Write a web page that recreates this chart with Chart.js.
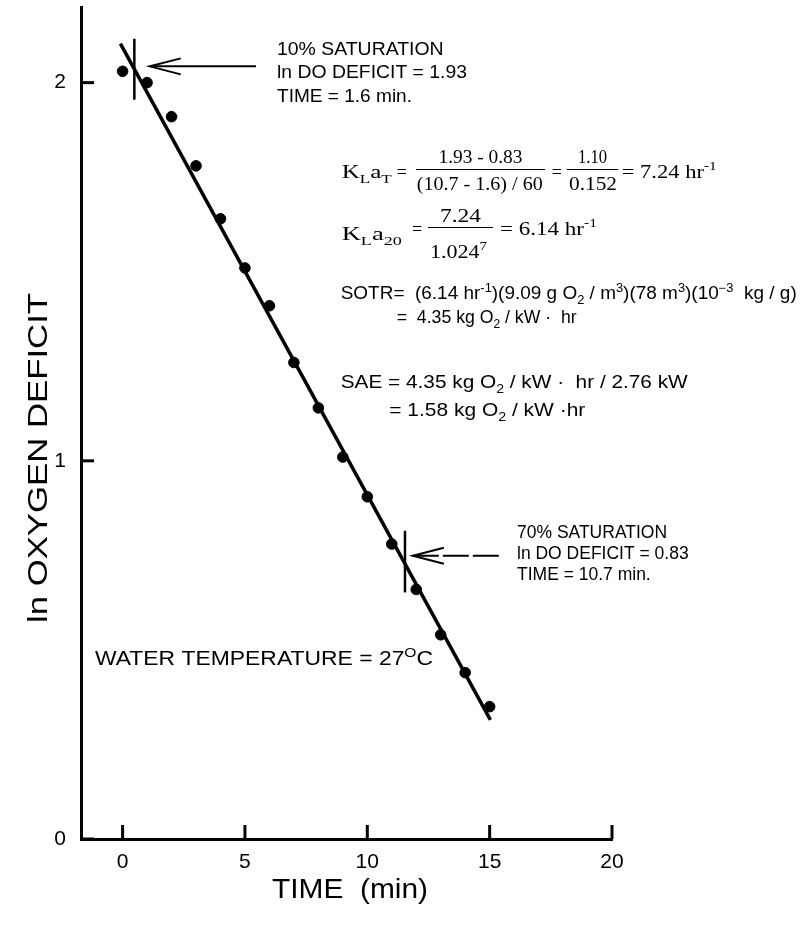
<!DOCTYPE html>
<html>
<head>
<meta charset="utf-8">
<script src="https://cdn.jsdelivr.net/npm/chart.js@4.4.0/dist/chart.umd.min.js"></script>
<style>
  html, body { margin: 0; padding: 0; background: #fff; }
  #wrap { width: 800px; height: 935px; }
</style>
</head>
<body>
<div id="wrap"><canvas id="chart" width="800" height="935"></canvas></div>
<script>
// ─── Data ────────────────────────────────────────────────────────────────
const TIME_MIN = [0, 1, 2, 3, 4, 5, 6, 7, 8, 9, 10, 11, 12, 13, 14, 15];
const LN_DEFICIT = [2.03, 2.00, 1.91, 1.78, 1.64, 1.51, 1.41, 1.26, 1.14, 1.01, 0.905, 0.78, 0.66, 0.54, 0.44, 0.35];

// fitted straight line (end points)
const FIT_TIME = [-0.09, 15.03];
const FIT_LN = [2.103, 0.315];

const X_TICKS = [0, 5, 10, 15, 20];
const Y_TICKS = [0, 1, 2];

// saturation markers and arrows (axis units)
const MARK_TIME = [0.48, 11.54];
const MARK_LN_TOP = [2.116, 0.815];
const MARK_LN_BOTTOM = [1.955, 0.652];
const ARROW_LN = [2.043, 0.749];
const ARROW_FROM = [5.45, 15.51];
const ARROW_TO = [1.11, 11.86];

const X_TITLE = 'TIME  (min)';
const Y_TITLE = 'ln OXYGEN DEFICIT';
const TOP_NOTE = ['10% SATURATION', 'ln DO DEFICIT = 1.93', 'TIME = 1.6 min.'];
const BOTTOM_NOTE = ['70% SATURATION', 'ln DO DEFICIT = 0.83', 'TIME = 10.7 min.'];

const SANS = '"Liberation Sans", Arial, sans-serif';
const SERIF = '"Liberation Serif", "Times New Roman", serif';

// ─── Rich text helper (sub / superscripts) ─────────────────────────────────
function partFont(kind, size, family) {
  return (kind ? size * 0.68 : size) + 'px ' + family;
}

function richWidth(ctx, parts, size, family) {
  let w = 0;
  parts.forEach(p => {
    const [t, kind] = Array.isArray(p) ? p : [p, ''];
    ctx.font = partFont(kind, size, family);
    w += ctx.measureText(t).width;
  });
  return w;
}

function drawRich(ctx, parts, x, y, o) {
  const size = o.size, family = o.family || SANS;
  const natural = richWidth(ctx, parts, size, family);
  const sx = o.width ? o.width / natural : 1;
  const total = natural * sx;
  const left = o.align === 'center' ? x - total / 2 : x;
  ctx.save();
  ctx.translate(left, y);
  ctx.scale(sx, 1);
  ctx.fillStyle = '#000';
  ctx.textBaseline = 'alphabetic';
  ctx.textAlign = 'left';
  let cx = 0;
  parts.forEach(p => {
    const [t, kind] = Array.isArray(p) ? p : [p, ''];
    ctx.font = partFont(kind, size, family);
    const dy = kind === 'sub' ? size * 0.28 : kind === 'sup' ? -size * 0.42 : 0;
    ctx.fillText(t, cx, dy);
    cx += ctx.measureText(t).width;
  });
  ctx.restore();
}

function hline(ctx, x1, x2, y, w) {
  ctx.beginPath();
  ctx.lineWidth = w || 1.2;
  ctx.moveTo(x1, y);
  ctx.lineTo(x2, y);
  ctx.stroke();
}

// ─── Annotation plugin ─────────────────────────────────────────────────────
const annotations = {
  id: 'annotations',
  afterDraw(chart) {
    const { ctx, scales: { x, y }, chartArea } = chart;
    ctx.save();
    ctx.strokeStyle = '#000';
    ctx.fillStyle = '#000';

    // inward tick marks
    ctx.lineWidth = 3;
    X_TICKS.forEach(v => {
      const px = x.getPixelForValue(v);
      ctx.beginPath();
      ctx.moveTo(px, chartArea.bottom);
      ctx.lineTo(px, chartArea.bottom - 14);
      ctx.stroke();
    });
    Y_TICKS.forEach(v => {
      const py = y.getPixelForValue(v);
      ctx.beginPath();
      ctx.moveTo(chartArea.left, py);
      ctx.lineTo(chartArea.left + 13, py);
      ctx.stroke();
    });

    // saturation markers
    ctx.lineWidth = 2.5;
    MARK_TIME.forEach((t, i) => {
      const px = x.getPixelForValue(t);
      ctx.beginPath();
      ctx.moveTo(px, y.getPixelForValue(MARK_LN_TOP[i]));
      ctx.lineTo(px, y.getPixelForValue(MARK_LN_BOTTOM[i]));
      ctx.stroke();
    });

    // arrows
    ctx.lineWidth = 2;
    ARROW_LN.forEach((v, i) => {
      const py = y.getPixelForValue(v);
      const tip = x.getPixelForValue(ARROW_TO[i]);
      const tail = x.getPixelForValue(ARROW_FROM[i]);
      ctx.setLineDash(i === 1 ? [26, 4] : []);
      ctx.beginPath();
      ctx.moveTo(tip, py);
      ctx.lineTo(tail, py);
      ctx.stroke();
      ctx.setLineDash([]);
      ctx.beginPath();
      ctx.moveTo(tip + 31, py - 8);
      ctx.lineTo(tip, py);
      ctx.lineTo(tip + 31, py + 8);
      ctx.stroke();
    });

    // notes beside the arrows
    const topWidths = [166.6, 190, 135];
    TOP_NOTE.forEach((s, i) => drawRich(ctx, [s], 277, 55 + i * 23.3, { size: 19, width: topWidths[i] }));
    BOTTOM_NOTE.forEach((s, i) => drawRich(ctx, [s], 517, 538 + i * 21, { size: 17.5 }));

    // K_L a_T equation
    const es = 18;
    drawRich(ctx, ['K', ['L', 'sub'], 'a', ['T', 'sub']], 341.7, 178, { size: es, family: SERIF, width: 50 });
    drawRich(ctx, ['='], 396.7, 178, { size: es, family: SERIF });
    drawRich(ctx, ['1.93 - 0.83'], 480.5, 163.3, { size: es, family: SERIF, width: 84, align: 'center' });
    hline(ctx, 416, 545, 169.5);
    drawRich(ctx, ['(10.7 - 1.6) / 60'], 479.7, 190, { size: es, family: SERIF, width: 126, align: 'center' });
    drawRich(ctx, ['='], 551.7, 178, { size: es, family: SERIF });
    drawRich(ctx, ['1.10'], 592.5, 163.3, { size: es, family: SERIF, width: 29, align: 'center' });
    hline(ctx, 566.7, 618.3, 169.5);
    drawRich(ctx, ['0.152'], 593, 190, { size: es, family: SERIF, width: 48, align: 'center' });
    drawRich(ctx, ['= 7.24 hr', ['-1', 'sup']], 621.7, 178, { size: es, family: SERIF, width: 95 });

    // K_L a_20 equation
    drawRich(ctx, ['K', ['L', 'sub'], 'a', ['20', 'sub']], 341.7, 240, { size: es, family: SERIF, width: 60 });
    drawRich(ctx, ['='], 412, 235, { size: es, family: SERIF });
    drawRich(ctx, ['7.24'], 460.5, 222, { size: es, family: SERIF, width: 41, align: 'center' });
    hline(ctx, 428, 493, 227.5);
    drawRich(ctx, ['1.024', ['7', 'sup']], 458.5, 258, { size: es, family: SERIF, width: 57, align: 'center' });
    drawRich(ctx, ['= 6.14 hr', ['-1', 'sup']], 500, 235, { size: es, family: SERIF, width: 97 });

    // SOTR and SAE
    drawRich(ctx, ['SOTR=  (6.14 hr', ['-1', 'sup'], ')(9.09 g O', ['2', 'sub'], ' / m', ['3', 'sup'],
      ')(78 m', ['3', 'sup'], ')(10', ['\u22123', 'sup'], '  kg / g)'], 340.7, 299.3, { size: 17.5, width: 456 });
    drawRich(ctx, ['=  4.35 kg O', ['2', 'sub'], ' / kW \u00b7  hr'], 396.7, 323.3, { size: 17.5, width: 180 });
    drawRich(ctx, ['SAE = 4.35 kg O', ['2', 'sub'], ' / kW \u00b7  hr / 2.76 kW'], 340.7, 387.7, { size: 19, width: 347 });
    drawRich(ctx, ['= 1.58 kg O', ['2', 'sub'], ' / kW \u00b7hr'], 389.3, 416, { size: 19, width: 196 });

    // water temperature
    drawRich(ctx, ['WATER TEMPERATURE = 27', ['O', 'sup'], 'C'], 95, 665, { size: 19.5, width: 338 });

    // axis titles
    drawRich(ctx, [X_TITLE], 350, 898, { size: 28, width: 156, align: 'center' });
    ctx.save();
    ctx.translate(47, 458);
    ctx.rotate(-Math.PI / 2);
    drawRich(ctx, [Y_TITLE], 0, 0, { size: 28, width: 330, align: 'center' });
    ctx.restore();

    ctx.restore();
  }
};

// ─── Chart ───────────────────────────────────────────────────────────────
const points = TIME_MIN.map((t, i) => ({ x: t, y: LN_DEFICIT[i] }));
const fitLine = FIT_TIME.map((t, i) => ({ x: t, y: FIT_LN[i] }));

new Chart(document.getElementById('chart'), {
  type: 'scatter',
  data: {
    datasets: [
      {
        label: 'measured',
        data: points,
        pointRadius: 5.3,
        pointBackgroundColor: '#000',
        pointBorderColor: '#000',
        showLine: false,
      },
      {
        label: 'fit',
        data: fitLine,
        showLine: true,
        borderColor: '#000',
        borderWidth: 3.5,
        pointRadius: 0,
      },
    ],
  },
  options: {
    responsive: false,
    animation: false,
    devicePixelRatio: 1,
    layout: { padding: { left: 0, top: 7, right: 188, bottom: 0 } },
    plugins: { legend: { display: false }, tooltip: { enabled: false } },
    scales: {
      x: {
        type: 'linear',
        min: -1.7,
        max: 20,
        afterFit: (s) => { s.height = 96; s.paddingLeft = 0; s.paddingRight = 0; },
        grid: { display: false, drawTicks: false },
        border: { display: true, color: '#000', width: 3 },
        ticks: {
          stepSize: 5,
          includeBounds: false,
          padding: 11,
          color: '#000',
          font: { family: SANS, size: 21 },
          maxRotation: 0,
        },
      },
      y: {
        min: 0,
        max: 2.2,
        afterFit: (s) => { s.width = 81; s.paddingTop = 0; s.paddingBottom = 0; },
        grid: { display: false, drawTicks: false },
        border: { display: true, color: '#000', width: 3 },
        ticks: {
          stepSize: 1,
          includeBounds: false,
          padding: 15,
          color: '#000',
          font: { family: SANS, size: 21 },
        },
      },
    },
  },
  plugins: [annotations],
});
</script>
</body>
</html>
